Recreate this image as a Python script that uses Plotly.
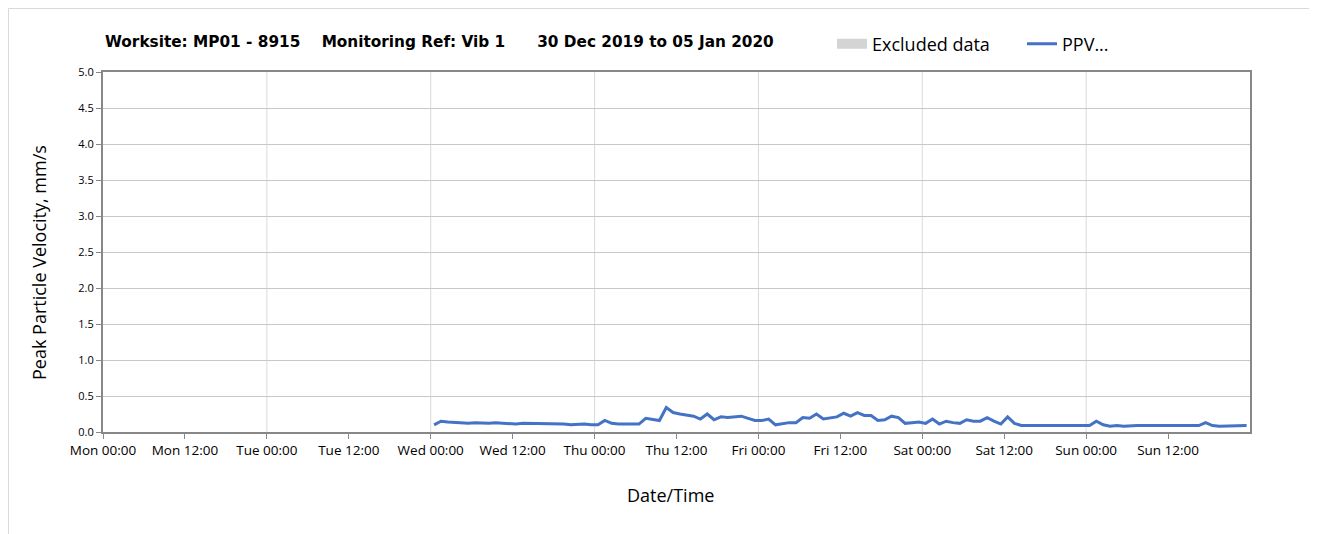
import plotly.graph_objects as go
import pandas as pd

# ---- data ----
start_time = "2020-01-01 00:30"   # Wed 00:30, hourly samples
wed = [0.10, 0.15, 0.14, 0.13, 0.13, 0.12, 0.13, 0.12, 0.12, 0.13, 0.12, 0.12,
       0.11, 0.12, 0.12, 0.12, 0.12, 0.11, 0.11, 0.11, 0.10, 0.11, 0.11, 0.10]
thu = [0.10, 0.16, 0.12, 0.11, 0.11, 0.10, 0.11, 0.19, 0.18, 0.16, 0.34, 0.27,
       0.25, 0.23, 0.22, 0.18, 0.25, 0.17, 0.21, 0.20, 0.21, 0.22, 0.19, 0.16]
fri = [0.16, 0.18, 0.10, 0.12, 0.13, 0.13, 0.20, 0.19, 0.25, 0.18, 0.19, 0.21,
       0.26, 0.22, 0.27, 0.23, 0.23, 0.16, 0.17, 0.22, 0.20, 0.12, 0.13, 0.14]
sat = [0.12, 0.18, 0.11, 0.15, 0.13, 0.12, 0.17, 0.15, 0.15, 0.20, 0.15, 0.11,
       0.21, 0.12, 0.09, 0.09, 0.09, 0.09, 0.09, 0.09, 0.09, 0.09, 0.09, 0.09]
sun = [0.09, 0.15, 0.10, 0.08, 0.09, 0.08, 0.09, 0.09, 0.09, 0.09, 0.09, 0.09,
       0.09, 0.09, 0.09, 0.10, 0.09, 0.13, 0.09, 0.08, 0.08, 0.09, 0.09, 0.09]
ppv = wed + thu + fri + sat + sun
times = pd.date_range(start_time, periods=len(ppv), freq="1h")

x_start = "2019-12-30 00:00"
x_end = "2020-01-06 00:00"
tick_times = pd.date_range(x_start, "2020-01-05 12:00", freq="12h")
tick_labels = ["Mon 00:00", "Mon 12:00", "Tue 00:00", "Tue 12:00", "Wed 00:00",
               "Wed 12:00", "Thu 00:00", "Thu 12:00", "Fri 00:00", "Fri 12:00",
               "Sat 00:00", "Sat 12:00", "Sun 00:00", "Sun 12:00"]
grid_days = pd.date_range("2019-12-31", "2020-01-05", freq="24h")
y_ticks = [0.0, 0.5, 1.0, 1.5, 2.0, 2.5, 3.0, 3.5, 4.0, 4.5, 5.0]

title_text = ("Worksite: MP01 - 8915&nbsp;&nbsp;&nbsp; Monitoring Ref: Vib 1"
              "&nbsp;&nbsp;&nbsp;&nbsp;&nbsp; 30 Dec 2019 to 05 Jan 2020")

FONT = "'Open Sans', Lato, sans-serif"
TFONT = "'DejaVu Sans', 'Open Sans', sans-serif"
OFF = 8  # page body margin
W, H = 1317 - OFF, 534 - OFF
L, T = 103 - OFF, 72 - OFF
pw, ph = 1147, 360
R, B = W - L - pw, H - T - ph


def px(xs):  # screen px -> paper x
    return (xs - OFF - L) / pw


def py(ys):  # screen px -> paper y
    return (T + ph - (ys - OFF)) / ph


fig = go.Figure()
fig.add_trace(go.Scatter(
    x=[None, None], y=[None, None], mode="lines", name="Excluded data",
    line=dict(color="#d4d4d4", width=12), legend="legend",
))
fig.add_trace(go.Scatter(
    x=times, y=ppv, mode="lines", name="PPV...",
    line=dict(color="#4472C4", width=3), legend="legend2",
))

shapes = []
for d in grid_days:
    shapes.append(dict(type="line", xref="x", yref="paper", x0=d, x1=d, y0=0, y1=1,
                       line=dict(color="#d9d9d9", width=1), layer="below"))
shapes.append(dict(type="rect", xref="paper", yref="paper",
                   x0=px(8.5), x1=px(1310), y0=py(8.5), y1=py(545),
                   line=dict(color="#d9d9d9", width=1), layer="below"))

leg_common = dict(orientation="h", yanchor="middle", xanchor="left",
                  font=dict(size=18, family=FONT, color="#000"),
                  bgcolor="rgba(0,0,0,0)", itemwidth=30)

fig.update_layout(
    width=W, height=H,
    margin=dict(l=L, r=R, t=T, b=B, autoexpand=False),
    paper_bgcolor="white", plot_bgcolor="white",
    font=dict(family=FONT, color="#000000"),
    shapes=shapes,
    showlegend=True,
    legend=dict(x=px(832), y=py(44), **leg_common),
    legend2=dict(x=px(1022), y=py(44), **leg_common),
    annotations=[
        dict(text="<b>" + title_text + "</b>", xref="paper", yref="paper",
             x=px(103), y=py(42), xanchor="left", yanchor="middle",
             showarrow=False, font=dict(size=15.3, family=TFONT, color="#000")),
        dict(text="Date/Time", xref="paper", yref="paper",
             x=px(670), y=py(495), xanchor="center", yanchor="middle",
             showarrow=False, font=dict(size=18, family=FONT, color="#000")),
        dict(text="Peak Particle Velocity, mm/s", xref="paper", yref="paper",
             x=px(39), y=py(263), xanchor="center", yanchor="middle", textangle=-90,
             showarrow=False, font=dict(size=18, family=FONT, color="#000")),
    ],
    xaxis=dict(
        type="date", range=[x_start, x_end],
        tickvals=tick_times, ticktext=tick_labels,
        ticks="outside", ticklen=5, tickcolor="#888888",
        showgrid=False, showline=True, linecolor="#888888", linewidth=2,
        mirror=True, zeroline=False, automargin=False,
        tickfont=dict(size=13.5, family=FONT),
    ),
    yaxis=dict(
        range=[0, 5], tickvals=y_ticks, tickformat=".1f",
        ticks="outside", ticklen=5, tickcolor="#888888",
        showgrid=True, gridcolor="#c8c8c8", gridwidth=1,
        showline=True, linecolor="#888888", linewidth=2, mirror=True,
        zeroline=False, automargin=False,
        tickfont=dict(size=11, family=FONT),
    ),
)

fig.write_html("out.html")
